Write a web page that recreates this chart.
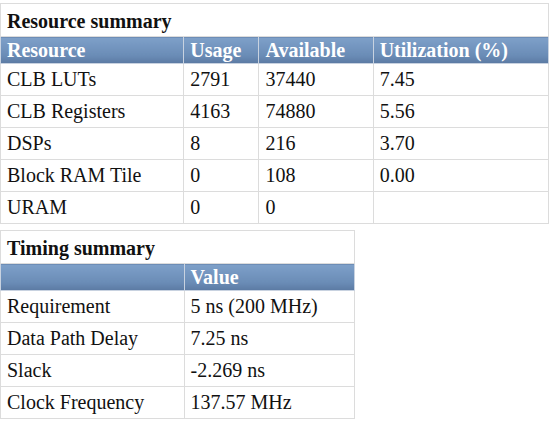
<!DOCTYPE html>
<html><head><meta charset="utf-8">
<script src="https://cdn.jsdelivr.net/npm/chart.js@4"></script>
<style>
body{margin:0;background:#fff;font-family:"Times New Roman","Liberation Serif",Tinos,"DejaVu Serif",serif;font-size:20px;color:#111;}
table{border-collapse:collapse;}
td,th{border:1px solid #dcdcdc;padding:0 6px;height:31px;text-align:left;white-space:nowrap;font-family:inherit;}
th{color:#fff;font-weight:bold;height:26px;background:linear-gradient(#7ea0c9,#6a8cb6 70%,#5b7aa3);border:1px solid #c8d2e0;}
.title td{font-weight:bold;height:30px;padding-top:2px;}
#t1{width:549px;position:absolute;left:0;top:3px;}
#t2{width:355px;position:absolute;left:0;top:230px;}
</style></head><body>
<table id="t1"><tbody id="b1"></tbody></table>
<table id="t2"><tbody id="b2"></tbody></table>
<script>
const resourceHeaders=["Resource","Usage","Available","Utilization (%)"];
const resources=["CLB LUTs","CLB Registers","DSPs","Block RAM Tile","URAM"];
const usage=["2791","4163","8","0","0"];
const available=["37440","74880","216","108","0"];
const utilization=["7.45","5.56","3.70","0.00",""];
const timingHeaders=["","Value"];
const timingNames=["Requirement","Data Path Delay","Slack","Clock Frequency"];
const timingValues=["5 ns (200 MHz)","7.25 ns","-2.269 ns","137.57 MHz"];
function build(id,title,headers,cols,widths){
  let h='<tr class="title"><td colspan="'+headers.length+'">'+title+'</td></tr><tr>';
  headers.forEach((x,i)=>h+='<th style="width:'+widths[i]+'px">'+x+'</th>');
  h+='</tr>';
  for(let r=0;r<cols[0].length;r++){h+='<tr>';cols.forEach(c=>h+='<td>'+c[r]+'</td>');h+='</tr>';}
  document.getElementById(id).innerHTML=h;
}
build("b1","Resource summary",resourceHeaders,[resources,usage,available,utilization],[170,62,101,162]);
build("b2","Timing summary",timingHeaders,[timingNames,timingValues],[170,157]);
</script></body></html>
